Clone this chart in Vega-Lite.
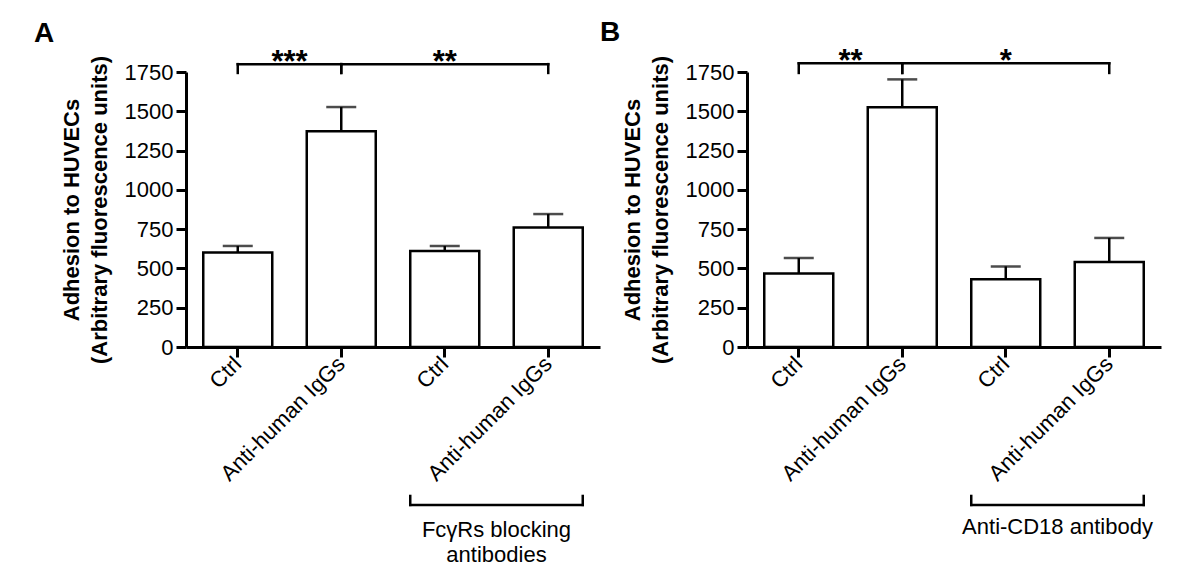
{
  "$schema": "https://vega.github.io/schema/vega-lite/v6.json",
  "padding": {"left": 34, "top": 18, "right": 5, "bottom": 5},
  "spacing": 0,
  "config": {
    "font": "Liberation Sans",
    "view": {"stroke": null},
    "axis": {
      "domainColor": "black", "tickColor": "black", "labelColor": "black", "titleColor": "black",
      "domainWidth": 3, "tickWidth": 3, "tickSize": 10, "labelFontSize": 22, "grid": false,
      "labelFont": "Liberation Sans", "titleFont": "Liberation Sans"
    },
    "title": {"color": "black", "font": "Liberation Sans"}
  },
  "datasets": {
    "A": [
      {"id": "c1", "mean": 601, "upper": 643},
      {"id": "a1", "mean": 1373, "upper": 1527},
      {"id": "c2", "mean": 611, "upper": 643},
      {"id": "a2", "mean": 760, "upper": 846}
    ],
    "B": [
      {"id": "c1", "mean": 467, "upper": 566},
      {"id": "a1", "mean": 1525, "upper": 1703},
      {"id": "c2", "mean": 431, "upper": 513},
      {"id": "a2", "mean": 541, "upper": 694}
    ],
    "sig": [
      {"from": "c1", "to": "a1"},
      {"from": "a1", "to": "a2"}
    ],
    "groupA": [{"from": "c2", "to": "a2", "label": ["FcγRs blocking", "antibodies"]}],
    "groupB": [{"from": "c2", "to": "a2", "label": ["Anti-CD18 antibody"]}]
  },
  "hconcat": [
    {
      "width": 414, "height": 275,
      "title": {"text": "A", "anchor": "start", "frame": "group", "fontSize": 28, "fontWeight": "bold", "dx": -152, "offset": -1},
      "resolve": {"axis": {"x": "independent", "y": "independent"}},
      "layer": [
        {
          "data": {"name": "A"},
          "mark": {"type": "bar", "fill": "white", "stroke": "black", "strokeWidth": 2.5},
          "encoding": {
            "x": {"field": "id", "type": "nominal",
              "scale": {"domain": ["c1", "a1", "c2", "a2"], "paddingInner": 0.3333, "paddingOuter": 0.1667},
              "axis": {"title": null, "labelAngle": -45, "labelAlign": "right", "labelBaseline": "middle", "labelPadding": 3,
                "labelExpr": "(datum.value == 'c1' || datum.value == 'c2') ? 'Ctrl' : 'Anti-human IgGs'"}},
            "y": {"field": "mean", "type": "quantitative",
              "scale": {"domain": [0, 1750], "nice": false},
              "axis": {"values": [0, 250, 500, 750, 1000, 1250, 1500, 1750], "format": "d", "labelPadding": 3,
                "title": ["Adhesion to HUVECs", "(Arbitrary fluorescence units)"],
                "titleFontSize": 22, "titleFontWeight": "bold", "titleLineHeight": 28, "titlePadding": 13}}
          }
        },
        {
          "data": {"name": "A"},
          "mark": {"type": "rule", "strokeWidth": 2.5, "color": "black"},
          "encoding": {
            "x": {"field": "id", "type": "nominal", "bandPosition": 0.5, "axis": null},
            "y": {"field": "mean", "type": "quantitative", "axis": null},
            "y2": {"field": "upper"}
          }
        },
        {
          "data": {"name": "A"},
          "mark": {"type": "tick", "orient": "horizontal", "size": 30, "thickness": 2.5, "color": "black"},
          "encoding": {
            "x": {"field": "id", "type": "nominal", "axis": null},
            "y": {"field": "upper", "type": "quantitative", "axis": null}
          }
        },
        {
          "data": {"name": "sig"},
          "mark": {"type": "rule", "strokeWidth": 2.5, "color": "black", "strokeCap": "square"},
          "encoding": {
            "x": {"field": "from", "type": "nominal", "bandPosition": 0.5, "axis": null},
            "x2": {"field": "to", "bandPosition": 0.5},
            "y": {"datum": 1800, "type": "quantitative", "axis": null}
          }
        },
        {
          "data": {"name": "sig"},
          "mark": {"type": "rule", "strokeWidth": 2.5, "color": "black", "strokeCap": "square"},
          "encoding": {
            "x": {"field": "from", "type": "nominal", "bandPosition": 0.5, "axis": null},
            "y": {"datum": 1744, "type": "quantitative", "axis": null},
            "y2": {"datum": 1800}
          }
        },
        {
          "data": {"name": "sig"},
          "mark": {"type": "rule", "strokeWidth": 2.5, "color": "black", "strokeCap": "square"},
          "encoding": {
            "x": {"field": "to", "type": "nominal", "bandPosition": 0.5, "axis": null},
            "y": {"datum": 1744, "type": "quantitative", "axis": null},
            "y2": {"datum": 1800}
          }
        },
        {
          "data": {"values": [{"stars": "***"}]},
          "mark": {"type": "text", "fontSize": 31, "fontWeight": "bold", "color": "black", "align": "center", "baseline": "alphabetic"},
          "encoding": {
            "x": {"datum": "c1", "type": "nominal", "bandPosition": 1.25, "axis": null},
            "y": {"datum": 1753, "type": "quantitative", "axis": null},
            "text": {"field": "stars"}
          }
        },
        {
          "data": {"values": [{"stars": "**"}]},
          "mark": {"type": "text", "fontSize": 31, "fontWeight": "bold", "color": "black", "align": "center", "baseline": "alphabetic"},
          "encoding": {
            "x": {"datum": "c2", "type": "nominal", "bandPosition": 0.5, "axis": null},
            "y": {"datum": 1753, "type": "quantitative", "axis": null},
            "text": {"field": "stars"}
          }
        },
        {
          "data": {"name": "groupA"},
          "mark": {"type": "rule", "strokeWidth": 2.5, "color": "black", "strokeCap": "square"},
          "encoding": {
            "x": {"field": "from", "type": "nominal", "bandPosition": 0, "axis": null},
            "x2": {"field": "to", "bandPosition": 1},
            "y": {"datum": -1005, "type": "quantitative", "axis": null}
          }
        },
        {
          "data": {"name": "groupA"},
          "mark": {"type": "rule", "strokeWidth": 2.5, "color": "black", "strokeCap": "square"},
          "encoding": {
            "x": {"field": "from", "type": "nominal", "bandPosition": 0, "axis": null},
            "y": {"datum": -1005, "type": "quantitative", "axis": null},
            "y2": {"datum": -948}
          }
        },
        {
          "data": {"name": "groupA"},
          "mark": {"type": "rule", "strokeWidth": 2.5, "color": "black", "strokeCap": "square"},
          "encoding": {
            "x": {"field": "to", "type": "nominal", "bandPosition": 1, "axis": null},
            "y": {"datum": -1005, "type": "quantitative", "axis": null},
            "y2": {"datum": -948}
          }
        },
        {
          "data": {"name": "groupA"},
          "mark": {"type": "text", "fontSize": 22, "color": "black", "align": "center", "baseline": "alphabetic", "lineHeight": 25},
          "encoding": {
            "x": {"field": "from", "type": "nominal", "bandPosition": 1.25, "axis": null},
            "y": {"datum": -1209, "type": "quantitative", "axis": null},
            "text": {"field": "label"}
          }
        }
      ]
    },
    {
      "width": 414, "height": 275,
      "title": {"text": "B", "anchor": "start", "frame": "group", "fontSize": 28, "fontWeight": "bold", "dx": -147, "offset": -1},
      "resolve": {"axis": {"x": "independent", "y": "independent"}},
      "layer": [
        {
          "data": {"name": "B"},
          "mark": {"type": "bar", "fill": "white", "stroke": "black", "strokeWidth": 2.5},
          "encoding": {
            "x": {"field": "id", "type": "nominal",
              "scale": {"domain": ["c1", "a1", "c2", "a2"], "paddingInner": 0.3333, "paddingOuter": 0.1667},
              "axis": {"title": null, "labelAngle": -45, "labelAlign": "right", "labelBaseline": "middle", "labelPadding": 3,
                "labelExpr": "(datum.value == 'c1' || datum.value == 'c2') ? 'Ctrl' : 'Anti-human IgGs'"}},
            "y": {"field": "mean", "type": "quantitative",
              "scale": {"domain": [0, 1750], "nice": false},
              "axis": {"values": [0, 250, 500, 750, 1000, 1250, 1500, 1750], "format": "d", "labelPadding": 3,
                "title": ["Adhesion to HUVECs", "(Arbitrary fluorescence units)"],
                "titleFontSize": 22, "titleFontWeight": "bold", "titleLineHeight": 28, "titlePadding": 13}}
          }
        },
        {
          "data": {"name": "B"},
          "mark": {"type": "rule", "strokeWidth": 2.5, "color": "black"},
          "encoding": {
            "x": {"field": "id", "type": "nominal", "bandPosition": 0.5, "axis": null},
            "y": {"field": "mean", "type": "quantitative", "axis": null},
            "y2": {"field": "upper"}
          }
        },
        {
          "data": {"name": "B"},
          "mark": {"type": "tick", "orient": "horizontal", "size": 30, "thickness": 2.5, "color": "black"},
          "encoding": {
            "x": {"field": "id", "type": "nominal", "axis": null},
            "y": {"field": "upper", "type": "quantitative", "axis": null}
          }
        },
        {
          "data": {"name": "sig"},
          "mark": {"type": "rule", "strokeWidth": 2.5, "color": "black", "strokeCap": "square"},
          "encoding": {
            "x": {"field": "from", "type": "nominal", "bandPosition": 0.5, "axis": null},
            "x2": {"field": "to", "bandPosition": 0.5},
            "y": {"datum": 1805, "type": "quantitative", "axis": null}
          }
        },
        {
          "data": {"name": "sig"},
          "mark": {"type": "rule", "strokeWidth": 2.5, "color": "black", "strokeCap": "square"},
          "encoding": {
            "x": {"field": "from", "type": "nominal", "bandPosition": 0.5, "axis": null},
            "y": {"datum": 1744, "type": "quantitative", "axis": null},
            "y2": {"datum": 1805}
          }
        },
        {
          "data": {"name": "sig"},
          "mark": {"type": "rule", "strokeWidth": 2.5, "color": "black", "strokeCap": "square"},
          "encoding": {
            "x": {"field": "to", "type": "nominal", "bandPosition": 0.5, "axis": null},
            "y": {"datum": 1744, "type": "quantitative", "axis": null},
            "y2": {"datum": 1805}
          }
        },
        {
          "data": {"values": [{"stars": "**"}]},
          "mark": {"type": "text", "fontSize": 31, "fontWeight": "bold", "color": "black", "align": "center", "baseline": "alphabetic"},
          "encoding": {
            "x": {"datum": "c1", "type": "nominal", "bandPosition": 1.25, "axis": null},
            "y": {"datum": 1758, "type": "quantitative", "axis": null},
            "text": {"field": "stars"}
          }
        },
        {
          "data": {"values": [{"stars": "*"}]},
          "mark": {"type": "text", "fontSize": 31, "fontWeight": "bold", "color": "black", "align": "center", "baseline": "alphabetic"},
          "encoding": {
            "x": {"datum": "c2", "type": "nominal", "bandPosition": 0.5, "axis": null},
            "y": {"datum": 1758, "type": "quantitative", "axis": null},
            "text": {"field": "stars"}
          }
        },
        {
          "data": {"name": "groupB"},
          "mark": {"type": "rule", "strokeWidth": 2.5, "color": "black", "strokeCap": "square"},
          "encoding": {
            "x": {"field": "from", "type": "nominal", "bandPosition": 0, "axis": null},
            "x2": {"field": "to", "bandPosition": 1},
            "y": {"datum": -1005, "type": "quantitative", "axis": null}
          }
        },
        {
          "data": {"name": "groupB"},
          "mark": {"type": "rule", "strokeWidth": 2.5, "color": "black", "strokeCap": "square"},
          "encoding": {
            "x": {"field": "from", "type": "nominal", "bandPosition": 0, "axis": null},
            "y": {"datum": -1005, "type": "quantitative", "axis": null},
            "y2": {"datum": -948}
          }
        },
        {
          "data": {"name": "groupB"},
          "mark": {"type": "rule", "strokeWidth": 2.5, "color": "black", "strokeCap": "square"},
          "encoding": {
            "x": {"field": "to", "type": "nominal", "bandPosition": 1, "axis": null},
            "y": {"datum": -1005, "type": "quantitative", "axis": null},
            "y2": {"datum": -948}
          }
        },
        {
          "data": {"name": "groupB"},
          "mark": {"type": "text", "fontSize": 22, "color": "black", "align": "center", "baseline": "alphabetic", "lineHeight": 25},
          "encoding": {
            "x": {"field": "from", "type": "nominal", "bandPosition": 1.25, "axis": null},
            "y": {"datum": -1190, "type": "quantitative", "axis": null},
            "text": {"field": "label"}
          }
        }
      ]
    }
  ]
}
